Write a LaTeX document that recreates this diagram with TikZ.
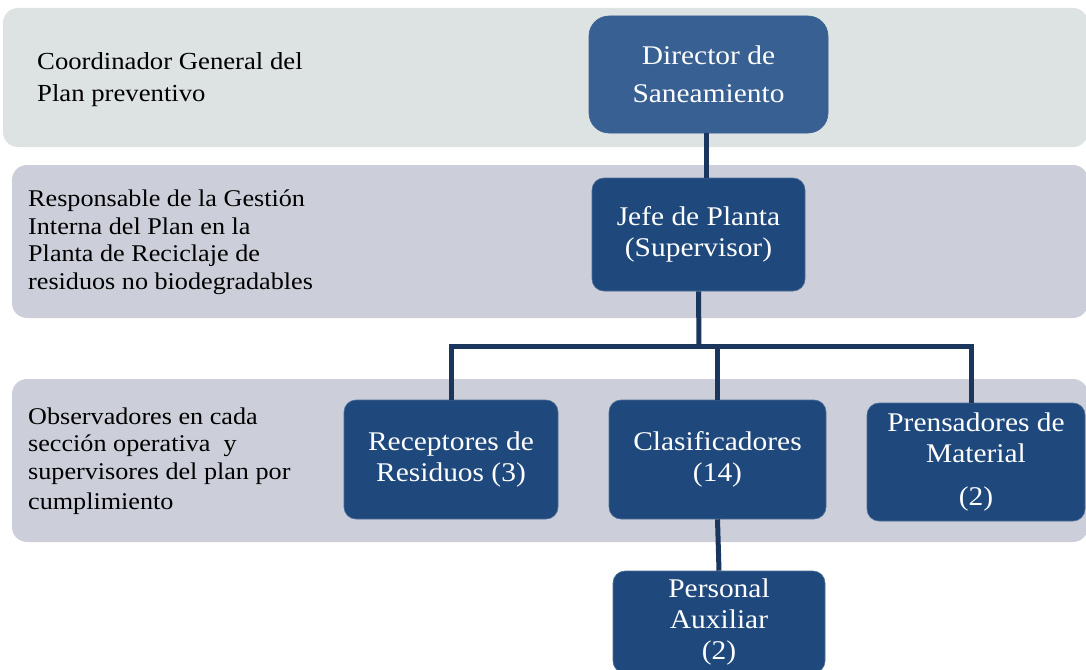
\documentclass[tikz,border=0pt]{standalone}
\usepackage{fontspec}
\setmainfont{Liberation Serif}[FakeStretch=1.09]
\definecolor{bandone}{RGB}{221,226,226}
\definecolor{bandtwo}{RGB}{204,207,217}
\definecolor{dirblue}{RGB}{56,96,146}
\definecolor{boxblue}{RGB}{31,73,125}
\definecolor{linkblue}{RGB}{26,54,93}
\begin{document}
\begin{tikzpicture}[x=1pt, y=-1pt,
  band/.style={fill=#1, rounded corners=15pt},
  lbl/.style={anchor=west, align=left, inner sep=0pt, font=\fontsize{24}{27.5}\selectfont},
  unit/.style={rectangle, rounded corners=12pt, fill=boxblue, draw=boxblue!80!white, line width=0.6pt,
    text=white, align=center, inner sep=0pt, font=\fontsize{27}{31}\selectfont},
  conn/.style={draw=linkblue, line width=5pt}]
\useasboundingbox (0,0) rectangle (1086,669);
\fill[band=bandone] (3,8) rectangle (1088,147);
\fill[band=bandtwo] (12,165) rectangle (1088,318);
\fill[band=bandtwo] (12,379) rectangle (1088,542);
\node[lbl, font=\fontsize{24.5}{32}\selectfont] (lblcoord) at (37,80) {Coordinador General del\\Plan preventivo};
\node[lbl] (lblresp) at (28,242) {Responsable de la Gesti\'on\\Interna del Plan en la\\Planta de Reciclaje de\\residuos no biodegradables};
\node[lbl] (lblobs) at (28,461) {Observadores en cada\\secci\'on operativa\ \ y\\supervisores del plan por\\[3pt]cumplimiento};
\node[unit, fill=dirblue, draw=dirblue, rounded corners=20pt, minimum width=239, minimum height=117] (dir) at (708.5,74.5) {Director de\\[7pt]Saneamiento};
\node[unit, minimum width=213, minimum height=113] (jefe) at (698.5,234.5) {Jefe de Planta\\(Supervisor)};
\node[unit, minimum width=214, minimum height=119] (rec) at (451,459.5) {Receptores de\\Residuos (3)};
\node[unit, minimum width=217, minimum height=119] (clas) at (717.5,459.5) {Clasificadores\\(14)};
\node[unit, minimum width=218, minimum height=118] (pren) at (976,462) {Prensadores de\\Material\\[12pt](2)};
\node[unit, minimum width=212, minimum height=102] (aux) at (719,622) {Personal\\Auxiliar\\(2)};
\coordinate (bus) at (699,346);
\draw[conn] ([xshift=-2.5pt]dir.south) -- ([xshift=-2.5pt]dir.south |- jefe.north);
\draw[conn] (jefe.south) -- (bus);
\draw[conn] (rec.north) |- (bus) -| ([xshift=-5pt]pren.north);
\draw[conn] (clas.north) -- (clas.north |- bus);
\draw[conn] (clas.south) -- (aux.north);
\end{tikzpicture}
\end{document}
